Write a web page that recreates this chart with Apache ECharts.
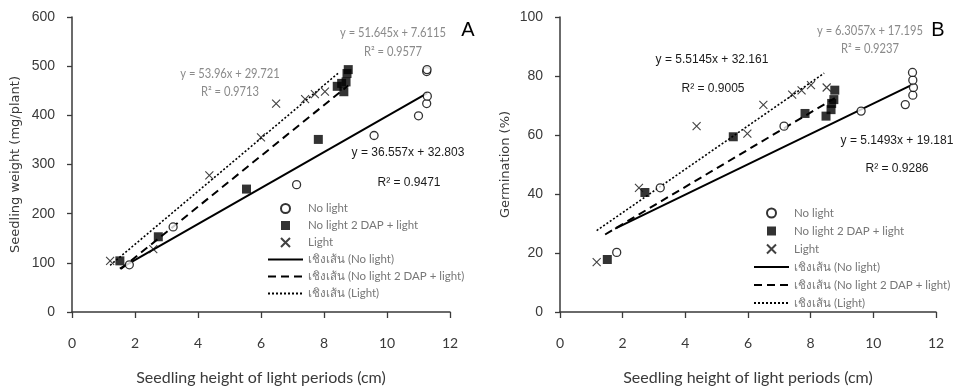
<!DOCTYPE html>
<html>
<head>
<meta charset="utf-8">
<script src="https://cdn.jsdelivr.net/npm/echarts@6/dist/echarts.min.js"></script>
<style>
  html, body { margin: 0; padding: 0; background: #fff; }
  #chart { width: 953px; height: 391px; }
</style>
</head>
<body>
<div id="chart"></div>
<script>
// series names (shared by both panels)
const seriesNames = ['No light', 'No light 2 DAP + light', 'Light',
  'เชิงเส้น (No light)', 'เชิงเส้น (No light 2 DAP + light)', 'เชิงเส้น (Light)'];

// panel A: seedling weight (mg/plant) vs seedling height (cm)
const aNoLightX = [1.82, 3.21, 7.13, 9.59, 11.0, 11.26, 11.28, 11.26, 11.27];
const aNoLightY = [96, 173, 259, 359, 399, 424, 439, 489, 493];
const aDapX = [1.52, 2.74, 5.54, 7.82, 8.42, 8.56, 8.63, 8.70, 8.73, 8.77];
const aDapY = [104, 153, 250, 351, 459, 465, 448, 468, 485, 493];
const aLightX = [1.21, 2.58, 4.36, 6.0, 6.48, 7.40, 7.71, 8.03];
const aLightY = [104, 128, 278, 355, 424, 433, 443, 448];

// panel B: germination (%) vs seedling height (cm)
const bNoLightX = [1.81, 3.20, 7.15, 9.61, 11.02, 11.26, 11.28, 11.26, 11.25];
const bNoLightY = [20.2, 42.1, 63.0, 68.1, 70.3, 73.5, 76.1, 78.6, 81.2];
const bDapX = [1.51, 2.71, 5.53, 7.82, 8.49, 8.65, 8.67, 8.74, 8.77];
const bDapY = [17.8, 40.5, 59.4, 67.3, 66.4, 68.6, 70.7, 72.0, 75.2];
const bLightX = [1.17, 2.52, 4.36, 5.98, 6.49, 7.41, 7.71, 8.01, 8.51];
const bLightY = [16.9, 42.1, 63.0, 60.5, 70.2, 73.7, 75.1, 76.9, 76.1];

// trend lines: [slope, intercept, xStart, xEnd]  (no light, dap, light)
const aTrends = [[36.557, 32.803, 1.52, 11.28], [51.645, 7.6115, 1.55, 8.77], [53.96, 29.721, 1.21, 8.45]];
const bTrends = [[5.1493, 19.181, 1.76, 11.28], [6.3057, 17.195, 1.44, 8.77], [7.35, 19.0, 1.17, 8.43]];

// equation labels
const aEqGray = ['y = 53.96x + 29.721', 'R² = 0.9713', 'y = 51.645x + 7.6115', 'R² = 0.9577'];
const aEqBlack = ['y = 36.557x + 32.803', 'R² = 0.9471'];
const bEqGray = ['y = 6.3057x + 17.195', 'R² = 0.9237'];
const bEqBlack = ['y = 5.5145x + 32.161', 'R² = 0.9005', 'y = 5.1493x + 19.181', 'R² = 0.9286'];

const xTitle = 'Seedling height of light periods (cm)';
const yTitleA = 'Seedling weight (mg/plant)';
const yTitleB = 'Germination (%)';

const zip = (xs, ys) => xs.map((x, i) => [x, ys[i]]);
const trendLine = t => [[t[2], t[0] * t[2] + t[1]], [t[3], t[0] * t[3] + t[1]]];

const axisCol = '#3a3a3a';
const crossPath = 'path://M0,0L10,10M10,0L0,10';
const squarePath = 'path://M0,0L10,0L10,10L0,10Z';
const lineTypes = [
  { width: 2, type: 'solid' },
  { width: 2, type: [8, 5] },
  { width: 1.6, type: [2, 2] }
];

function makeSeries(idx, noX, noY, dX, dY, lX, lY, trends) {
  const base = { xAxisIndex: idx, yAxisIndex: idx, animation: false };
  const list = [
    Object.assign({}, base, {
      name: seriesNames[0], type: 'scatter', data: zip(noX, noY),
      symbol: 'circle', symbolSize: 8,
      itemStyle: { color: '#fff', borderColor: '#000', borderWidth: 1.3 }, z: 4
    }),
    Object.assign({}, base, {
      name: seriesNames[1], type: 'scatter', data: zip(dX, dY),
      symbol: 'rect', symbolSize: 9, itemStyle: { color: '#000' }, z: 4
    }),
    Object.assign({}, base, {
      name: seriesNames[2], type: 'scatter', data: zip(lX, lY),
      symbol: crossPath, symbolSize: 8,
      itemStyle: { color: 'rgba(0,0,0,0)', borderColor: '#111', borderWidth: 1.1 }, z: 4
    })
  ];
  trends.forEach((t, i) => {
    list.push(Object.assign({}, base, {
      name: seriesNames[3 + i], type: 'line', data: trendLine(t),
      symbol: 'none', lineStyle: Object.assign({ color: '#000' }, lineTypes[i]),
      itemStyle: { color: 'rgba(0,0,0,0)', borderColor: 'rgba(0,0,0,0)' }, z: 3
    }));
  });
  return list;
}

function xAxis(idx) {
  return {
    gridIndex: idx, type: 'value', min: 0, max: 12, interval: 2,
    name: xTitle, nameLocation: 'middle', nameGap: 58,
    nameTextStyle: { fontFamily: 'Lato', fontSize: 16, color: '#3a3a3a' },
    axisLine: { lineStyle: { color: axisCol, width: 1.5 } },
    axisTick: { show: true, length: 6, lineStyle: { color: axisCol, width: 1.3 } },
    axisLabel: { margin: 24, fontFamily: 'Lato', fontSize: 14, color: '#3a3a3a' },
    splitLine: { show: false }
  };
}

function yAxis(idx, max, interval, title, gap) {
  return {
    gridIndex: idx, type: 'value', min: 0, max: max, interval: interval,
    name: title, nameLocation: 'middle', nameGap: gap,
    nameTextStyle: { fontFamily: 'DejaVu Sans', fontSize: 13, color: '#3a3a3a' },
    axisLine: { show: true, lineStyle: { color: axisCol, width: 1.5 } },
    axisTick: { show: true, length: 5, lineStyle: { color: axisCol, width: 1.3 } },
    axisLabel: { margin: 17, fontFamily: 'Liberation Sans', fontSize: 14, color: '#3a3a3a' },
    splitLine: { show: false }
  };
}

function legend(left, top, rowH) {
  const data = seriesNames.map((n, i) => i === 1 ? { name: n, icon: squarePath } : { name: n });
  return {
    left: left, top: top, orient: 'vertical', data: data,
    itemWidth: 35, itemHeight: 9, itemGap: 0, selectedMode: false,
    textStyle: { fontFamily: 'Lato', fontSize: 11.5, color: '#777', lineHeight: rowH }
  };
}

// gray equations use a horizontally squeezed font like the original
function txt(text, x, y, font, fill, sx) {
  return {
    type: 'text', x: x, y: y, silent: true, scaleX: sx || 1,
    style: { text: text, font: font, fill: fill, align: 'center', verticalAlign: 'middle' }
  };
}

const grayFont = '13px Lato';
const blackFont = '12px "Liberation Sans"';
const gray = '#8a8a8a';
const sq = 0.86;

const chart = echarts.init(document.getElementById('chart'), null, { renderer: 'canvas' });
chart.setOption({
  backgroundColor: '#fff',
  animation: false,
  grid: [
    { left: 72, top: 17, width: 378, height: 295 },
    { left: 560, top: 17, width: 376, height: 295 }
  ],
  xAxis: [xAxis(0), xAxis(1)],
  yAxis: [yAxis(0, 600, 100, yTitleA, 50), yAxis(1, 100, 20, yTitleB, 48)],
  legend: [legend(262, 195, 17), legend(748, 199, 18)],
  series: makeSeries(0, aNoLightX, aNoLightY, aDapX, aDapY, aLightX, aLightY, aTrends)
    .concat(makeSeries(1, bNoLightX, bNoLightY, bDapX, bDapY, bLightX, bLightY, bTrends)),
  graphic: [
    txt(aEqGray[0], 230, 74, grayFont, gray, sq),
    txt(aEqGray[1], 230, 92, grayFont, gray, sq),
    txt(aEqGray[2], 393, 33, grayFont, gray, sq),
    txt(aEqGray[3], 393, 52, grayFont, gray, sq),
    txt(aEqBlack[0], 408, 153, blackFont, '#1a1a1a'),
    txt(aEqBlack[1], 409, 183, blackFont, '#1a1a1a'),
    txt(bEqGray[0], 870, 31, grayFont, gray, sq),
    txt(bEqGray[1], 870, 49, grayFont, gray, sq),
    txt(bEqBlack[0], 712, 60, blackFont, '#1a1a1a'),
    txt(bEqBlack[1], 713, 89, blackFont, '#1a1a1a'),
    txt(bEqBlack[2], 897, 141, blackFont, '#1a1a1a'),
    txt(bEqBlack[3], 897, 169, blackFont, '#1a1a1a'),
    txt('A', 468, 30, '20px "Liberation Sans"', '#000'),
    txt('B', 938, 30, '20px "Liberation Sans"', '#000')
  ]
});
</script>
</body>
</html>
